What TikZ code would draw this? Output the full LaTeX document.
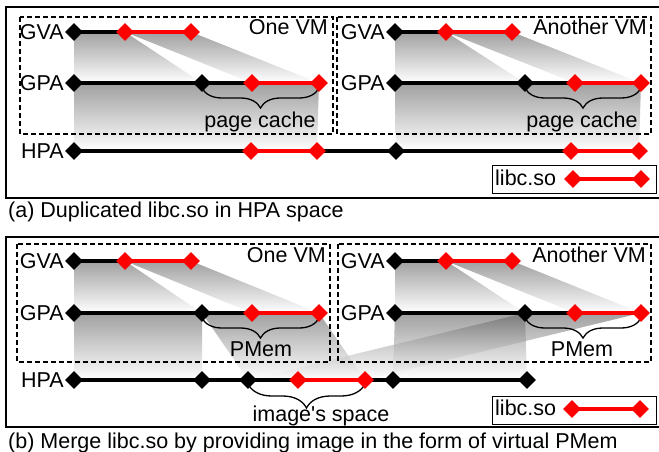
\documentclass[tikz,border=0pt]{standalone}
\usepackage{fontspec}
\setmainfont{Liberation Sans}
\usetikzlibrary{shapes.geometric,decorations.pathreplacing,calc}
\pgfdeclarelayer{shade}
\pgfdeclarelayer{lines}
\pgfsetlayers{shade,lines,main}
\begin{document}
\begin{tikzpicture}[x=1pt,y=-1pt,font=\fontsize{21.5}{24}\selectfont,
  bd/.style={diamond,fill=black,inner sep=0pt,minimum width=18pt,minimum height=18pt},
  rd/.style={bd,fill=red},
  blk/.style={line width=4.5pt,black},
  redl/.style={line width=4pt,red},
  lbl/.style={anchor=east,inner sep=0pt},
  txt/.style={anchor=base,inner sep=0pt},
  vmbox/.style={draw,dash pattern=on 5pt off 3pt,line width=1.2pt},
  panel/.style={draw,line width=1.5pt},
  shd/.style={top color=black!62,bottom color=white,fill opacity=0.6},
  brc/.style={decorate,decoration={brace,amplitude=#1},line width=1.3pt},
  brc/.default=20pt]
\useasboundingbox (0,0) rectangle (659,452);

% ---------------- panel (a) ----------------
\node[bd] (ga1) at (74,32) {};
\node[rd] (ga2) at (125,32) {};
\node[rd] (ga3) at (191,32) {};
\node[bd] (pa1) at (74,83) {};
\node[bd] (pa2) at (202,83) {};
\node[rd] (pa3) at (252,83) {};
\node[rd] (pa4) at (319,83) {};
\node[bd] (gb1) at (395,32) {};
\node[rd] (gb2) at (446,32) {};
\node[rd] (gb3) at (512,32) {};
\node[bd] (pb1) at (395,83) {};
\node[bd] (pb2) at (525,83) {};
\node[rd] (pb3) at (575,83) {};
\node[rd] (pb4) at (641,83) {};
\node[bd] (h1) at (74,151) {};
\node[rd] (h2) at (251,151) {};
\node[rd] (h3) at (317,151) {};
\node[bd] (h4) at (396,151) {};
\node[rd] (h5) at (571,151) {};
\node[rd] (h6) at (639,151) {};

% ---------------- panel (b) ----------------
\node[bd] (gc1) at (74,261) {};
\node[rd] (gc2) at (125,261) {};
\node[rd] (gc3) at (191,261) {};
\node[bd] (pc1) at (74,313) {};
\node[bd] (pc2) at (202,313) {};
\node[rd] (pc3) at (252,313) {};
\node[rd] (pc4) at (319,313) {};
\node[bd] (gd1) at (395,261) {};
\node[rd] (gd2) at (446,261) {};
\node[rd] (gd3) at (512,261) {};
\node[bd] (pd1) at (395,313) {};
\node[bd] (pd2) at (525,313) {};
\node[rd] (pd3) at (575,313) {};
\node[rd] (pd4) at (641,313) {};
\node[bd] (k1) at (74,380) {};
\node[bd] (k2) at (202,380) {};
\node[bd] (k3) at (248,380) {};
\node[rd] (k4) at (298,380) {};
\node[rd] (k5) at (365,380) {};
\node[bd] (k6) at (393,380) {};
\node[bd] (k7) at (527,380) {};

% legends
\node[rd] (la1) at (573,179) {};
\node[rd] (la2) at (641,179) {};
\node[rd] (lb1) at (572,409) {};
\node[rd] (lb2) at (640,409) {};

% ---------------- shading ----------------
\begin{pgfonlayer}{shade}
\path[shd] (ga1.center) -- (ga2.center) -- (pa2.center) -- (pa1.center) -- cycle;
\path[shd] (ga2.center) -- (ga3.center) -- (pa4.center) -- (pa3.center) -- cycle;
\path[shd] (pa1.center) -- (pa4.center) -- (h3.center) -- (h1.center) -- cycle;
\path[shd] (gb1.center) -- (gb2.center) -- (pb2.center) -- (pb1.center) -- cycle;
\path[shd] (gb2.center) -- (gb3.center) -- (pb4.center) -- (pb3.center) -- cycle;
\path[shd] (pb1.center) -- (pb4.center) -- (h6.center) -- (h4.center) -- cycle;

\path[shd] (gc1.center) -- (gc2.center) -- (pc2.center) -- (pc1.center) -- cycle;
\path[shd] (gc2.center) -- (gc3.center) -- (pc4.center) -- (pc3.center) -- cycle;
\path[shd] (pc1.center) -- (pc2.center) -- (k2.center) -- (k1.center) -- cycle;
\path[shd] (pc2.center) -- (pc4.center) -- (k5.center) -- (k3.center) -- cycle;
\path[shd] (gd1.center) -- (gd2.center) -- (pd2.center) -- (pd1.center) -- cycle;
\path[shd] (gd2.center) -- (gd3.center) -- (pd4.center) -- (pd3.center) -- cycle;
\path[shd] (pd1.center) -- (pd2.center) -- (k7.center) -- (k6.center) -- cycle;
\path[shd] (pd2.center) -- (pd4.center) -- (k5.center) -- (k3.center) -- cycle;
\end{pgfonlayer}

% ---------------- lines and boxes ----------------
\begin{pgfonlayer}{lines}
\draw[panel] (662,7) -- (6,7) -- (6,198) -- (662,198);
\draw[panel] (662,237) -- (6,237) -- (6,427) -- (662,427);
\draw[vmbox] (20,17) rectangle (333,134);
\draw[vmbox] (337,17) rectangle (651,134);
\draw[vmbox] (17,244) rectangle (330,362);
\draw[vmbox] (338,244) rectangle (651,362);

\draw[blk] (ga1.center) -- (ga2.center);
\draw[redl] (ga2.center) -- (ga3.center);
\draw[blk] (pa1.center) -- (pa3.center);
\draw[redl] (pa3.center) -- (pa4.center);
\draw[blk] (gb1.center) -- (gb2.center);
\draw[redl] (gb2.center) -- (gb3.center);
\draw[blk] (pb1.center) -- (pb3.center);
\draw[redl] (pb3.center) -- (pb4.center);
\draw[blk] (h1.center) -- (h2.center);
\draw[redl] (h2.center) -- (h3.center);
\draw[blk] (h3.center) -- (h5.center);
\draw[redl] (h5.center) -- (h6.center);

\draw[blk] (gc1.center) -- (gc2.center);
\draw[redl] (gc2.center) -- (gc3.center);
\draw[blk] (pc1.center) -- (pc3.center);
\draw[redl] (pc3.center) -- (pc4.center);
\draw[blk] (gd1.center) -- (gd2.center);
\draw[redl] (gd2.center) -- (gd3.center);
\draw[blk] (pd1.center) -- (pd3.center);
\draw[redl] (pd3.center) -- (pd4.center);
\draw[blk] (k1.center) -- (k4.center);
\draw[redl] (k4.center) -- (k5.center);
\draw[blk] (k5.center) -- (k7.center);

\draw[redl,line width=3.2pt] (la1.center) -- (la2.center);
\draw[redl,line width=3.2pt] (lb1.center) -- (lb2.center);

\draw[brc] ($(pa4)+(0,5)$) -- ($(pa2)+(0,5)$);
\draw[brc] ($(pb4)+(0,5)$) -- ($(pb2)+(0,5)$);
\draw[brc] ($(pc4)+(0,5)$) -- ($(pc2)+(0,5)$);
\draw[brc] ($(pd4)+(0,5)$) -- ($(pd2)+(0,5)$);
\draw[brc=24pt] ($(k5)+(0,4)$) -- ($(k3)+(0,4)$);
\end{pgfonlayer}

% legend boxes
\node[draw,line width=1.3pt,inner sep=0pt,minimum width=164pt,minimum height=28pt,anchor=north west] (lega) at (492,165) {};
\node[draw,line width=1.3pt,inner sep=0pt,minimum width=164pt,minimum height=28pt,anchor=north west] (legb) at (492,396) {};
\node[anchor=base west,inner sep=0pt] (libca) at (495,185) {libc.so};
\node[anchor=base west,inner sep=0pt] (libcb) at (495,415) {libc.so};

% labels
\node[lbl] (tga) at (64,32) {GVA};
\node[lbl] (tpa) at (64,83) {GPA};
\node[lbl] (tha) at (64,151) {HPA};
\node[lbl] (tgb) at (385,32) {GVA};
\node[lbl] (tpb) at (385,83) {GPA};
\node[lbl] (tgc) at (64,261) {GVA};
\node[lbl] (tpc) at (64,313) {GPA};
\node[lbl] (thc) at (64,380) {HPA};
\node[lbl] (tgd) at (385,261) {GVA};
\node[lbl] (tpd) at (385,313) {GPA};

\node[anchor=base east,inner sep=0pt] (vm1a) at (328,35) {One VM};
\node[anchor=base east,inner sep=0pt] (vm2a) at (647,35) {Another VM};
\node[anchor=base east,inner sep=0pt] (vm1b) at (326,262) {One VM};
\node[anchor=base east,inner sep=0pt] (vm2b) at (646,262) {Another VM};

\node[txt] (pca) at (260,128) {page cache};
\node[txt] (pcb) at (582,128) {page cache};
\node[txt] (pma) at (261,356) {PMem};
\node[txt] (pmb) at (582,356) {PMem};
\node[txt] (img) at (321,421) {image\textquotesingle s space};

\node[anchor=base west,inner sep=0pt] (capa) at (8,217) {(a) Duplicated libc.so in HPA space};
\node[anchor=base west,inner sep=0pt] (capb) at (8,448) {(b) Merge libc.so by providing image in the form of virtual PMem};
\end{tikzpicture}
\end{document}
